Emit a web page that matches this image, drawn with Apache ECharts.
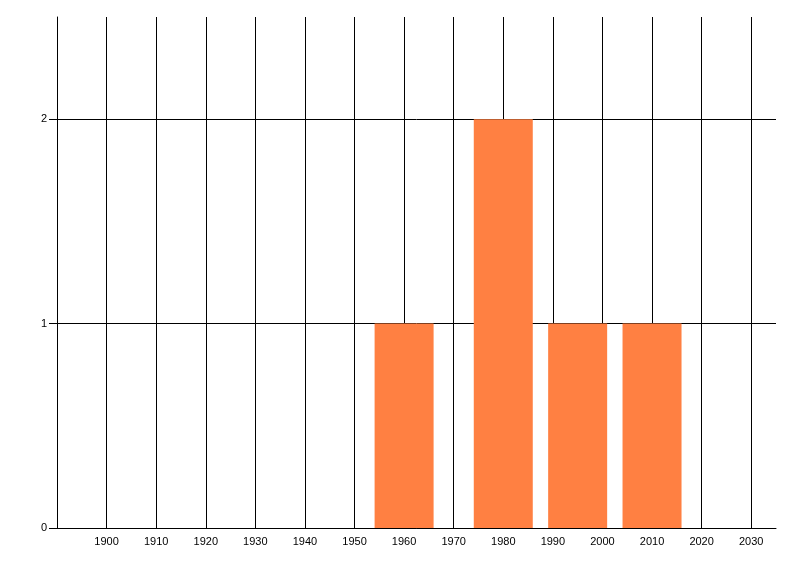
<!DOCTYPE html>
<html>
<head>
<meta charset="utf-8">
<script src="https://cdn.jsdelivr.net/npm/echarts@6/dist/echarts.min.js"></script>
<style>html,body{margin:0;padding:0;background:#fff;}#c{width:800px;height:576px;}</style>
</head>
<body>
<div id="c"></div>
<script>
const years = [1960, 1980, 1995, 2010];
const counts = [1, 2, 1, 1];
const xLabels = [1900, 1910, 1920, 1930, 1940, 1950, 1960, 1970, 1980, 1990, 2000, 2010, 2020, 2030];
const yLabels = [0, 1, 2];

const font = '"Microsoft Sans Serif", "Liberation Sans", Arial, sans-serif';
const chart = echarts.init(document.getElementById('c'), null, {renderer: 'canvas'});
chart.setOption({
  animation: false,
  backgroundColor: '#fff',
  grid: {left: 57, right: 24, top: 17, bottom: 48, containLabel: false},
  xAxis: {
    type: 'value', min: 1890, max: 2035, interval: 10,
    axisLine: {show: true, lineStyle: {color: '#000', width: 1}},
    axisTick: {show: false},
    axisLabel: {customValues: xLabels, formatter: v => String(v), color: '#000', fontSize: 11, fontFamily: font, margin: 8},
    splitLine: {show: true, showMinLine: true, showMaxLine: false, lineStyle: {color: '#000', width: 1}}
  },
  yAxis: {
    type: 'value', min: 0, max: 2.5, interval: 1,
    axisLine: {show: true, lineStyle: {color: '#000', width: 1}},
    axisTick: {show: true, length: 8, customValues: yLabels, lineStyle: {color: '#000'}},
    axisLabel: {customValues: yLabels, formatter: v => String(v), color: '#000', fontSize: 11, fontFamily: font, margin: 10},
    splitLine: {show: true, lineStyle: {color: '#000', width: 1}}
  },
  series: [{
    type: 'bar',
    data: years.map((y, i) => [y, counts[i]]),
    barWidth: 59,
    itemStyle: {color: '#FF8042'}
  }]
});
</script>
</body>
</html>
